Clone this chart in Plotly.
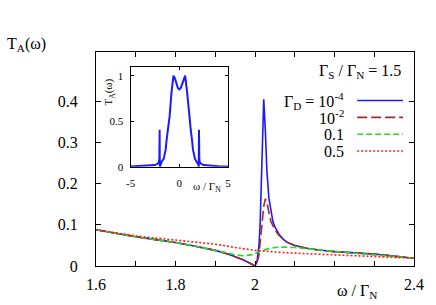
import plotly.graph_objects as go

# ---- main panel data (omega / Gamma_N, T_A) ----
w_blue = [1.6, 1.65, 1.7, 1.75, 1.8, 1.85, 1.9, 1.93, 1.95, 1.97, 1.985, 1.995, 2.0,
          2.005, 2.01, 2.013, 2.016, 2.019, 2.022, 2.026, 2.03, 2.035, 2.04, 2.045, 2.05,
          2.06, 2.07, 2.08, 2.1, 2.13, 2.16, 2.2, 2.25, 2.3, 2.35, 2.4]
t_blue = [0.088, 0.079, 0.071, 0.064, 0.057, 0.048, 0.038, 0.030, 0.023, 0.015, 0.008, 0.002, 0.0,
          0.01, 0.05, 0.105, 0.19, 0.30, 0.405, 0.33, 0.23, 0.165, 0.13, 0.108, 0.095,
          0.078, 0.066, 0.058, 0.050, 0.043, 0.039, 0.035, 0.032, 0.029, 0.024, 0.019]

w_red = [1.6, 1.65, 1.7, 1.75, 1.8, 1.85, 1.9, 1.93, 1.95, 1.97, 1.985, 1.995, 2.0,
         2.005, 2.01, 2.014, 2.018, 2.022, 2.026, 2.03, 2.035, 2.04, 2.05, 2.06,
         2.07, 2.08, 2.1, 2.13, 2.16, 2.2, 2.25, 2.3, 2.35, 2.4]
t_red = [0.088, 0.079, 0.071, 0.064, 0.057, 0.048, 0.038, 0.030, 0.023, 0.015, 0.008, 0.002, 0.0,
         0.008, 0.027, 0.067, 0.108, 0.145, 0.163, 0.155, 0.13, 0.108, 0.088, 0.075,
         0.066, 0.058, 0.050, 0.043, 0.039, 0.035, 0.032, 0.029, 0.024, 0.019]

w_green = [1.6, 1.65, 1.7, 1.75, 1.8, 1.85, 1.9, 1.93, 1.95, 1.97, 1.99, 2.0, 2.01, 2.03,
           2.05, 2.07, 2.1, 2.15, 2.2, 2.25, 2.3, 2.35, 2.4]
t_green = [0.088, 0.079, 0.071, 0.064, 0.057, 0.048, 0.039, 0.032, 0.027, 0.025, 0.027, 0.030,
           0.035, 0.041, 0.045, 0.046, 0.045, 0.040, 0.035, 0.031, 0.027, 0.023, 0.019]

w_dot = [1.6, 1.7, 1.8, 1.9, 1.95, 2.0, 2.05, 2.1, 2.15, 2.2, 2.25, 2.3, 2.35, 2.4]
t_dot = [0.088, 0.073, 0.063, 0.053, 0.045, 0.038, 0.034, 0.031, 0.029, 0.027, 0.025, 0.023, 0.021, 0.019]

# ---- inset data (Gamma_D = 1e-4, full range) ----
w_inset = [-5, -4, -3, -2.5, -2.2, -2.1, -2.05, -2.035, -2.022, -2.013, -2.0, -1.95, -1.9, -1.8,
           -1.6, -1.4, -1.3, -1.2, -1.0, -0.8, -0.6, -0.45, -0.3, -0.15, 0,
           0.15, 0.3, 0.45, 0.6, 0.8, 1.0, 1.2, 1.3, 1.4, 1.6, 1.8, 1.9, 1.95, 2.0,
           2.013, 2.022, 2.035, 2.05, 2.1, 2.2, 2.5, 3, 4, 5]
t_inset = [0.003, 0.006, 0.012, 0.018, 0.035, 0.05, 0.095, 0.165, 0.405, 0.105, 0.0, 0.023, 0.038, 0.057,
           0.088, 0.19, 0.3, 0.38, 0.55, 0.82, 1.0, 0.97, 0.91, 0.865, 0.85,
           0.865, 0.91, 0.97, 1.0, 0.82, 0.55, 0.38, 0.3, 0.19, 0.088, 0.057, 0.038, 0.023, 0.0,
           0.105, 0.405, 0.165, 0.095, 0.05, 0.035, 0.018, 0.012, 0.006, 0.003]

x_ticks = [1.6, 1.7, 1.8, 1.9, 2.0, 2.1, 2.2, 2.3, 2.4]
x_ticktext = ["1.6", "", "1.8", "", "2", "", "", "", "2.4"]
y_ticks = [0, 0.1, 0.2, 0.3, 0.4]
y_ticktext = ["0", "0.1", "0.2", "0.3", "0.4"]

legend_labels = ["Γ<sub>D</sub> = 10<sup>-4</sup>", "10<sup>-2</sup>", "0.1", "0.5"]
colors = ["#1a1aff", "#a52a2a", "#22dd22", "#ff1a1a"]
dashes = ["solid", "10px,4px", "6px,3px", "2px,2px"]

FONT = "Liberation Serif"

fig = go.Figure()
series = [(w_blue, t_blue), (w_red, t_red), (w_green, t_green), (w_dot, t_dot)]
for (w, t), c, d in zip(series, colors, dashes):
    fig.add_trace(go.Scatter(x=w, y=t, mode="lines", line=dict(color=c, width=1.6, dash=d),
                             showlegend=False, xaxis="x", yaxis="y"))

fig.add_trace(go.Scatter(x=w_inset, y=t_inset, mode="lines", line=dict(color="#1a1aff", width=2),
                         showlegend=False, xaxis="x2", yaxis="y2"))

axis_common = dict(showline=True, linecolor="black", linewidth=1.2, mirror="ticks",
                   ticks="inside", ticklen=5, tickcolor="black", tickwidth=1,
                   showgrid=False, zeroline=False)

fig.update_layout(
    width=436, height=305,
    margin=dict(l=96, r=21, t=52, b=37),
    paper_bgcolor="white", plot_bgcolor="white",
    font=dict(family=FONT, size=16, color="black"),
    xaxis=dict(range=[1.6, 2.4], tickvals=x_ticks, ticktext=x_ticktext,
               ticklabelstandoff=4, tickfont=dict(family=FONT, size=16), **axis_common),
    yaxis=dict(range=[0, 0.52], tickvals=y_ticks, ticktext=y_ticktext,
               ticklabelstandoff=14, tickfont=dict(family=FONT, size=16), **axis_common),
    xaxis2=dict(domain=[0.109, 0.415], anchor="y2", range=[-5, 5], tickvals=[-5, 0, 5],
                ticktext=["-5", "0", "5"], tickfont=dict(family=FONT, size=11), ticklabelstandoff=6,
                **{**axis_common, "ticklen": 3}),
    yaxis2=dict(domain=[0.464, 0.932], anchor="x2", range=[0, 1.1], tickvals=[0, 0.5, 1],
                ticktext=["0", "0.5", "1"], tickfont=dict(family=FONT, size=11), ticklabelstandoff=4,
                **{**axis_common, "ticklen": 3}),
)

W, H = 436, 305
L, R, T, B = 96, 21, 52, 37
pw, ph = W - L - R, H - T - B


def px2paper(x, y):
    return (x - L) / pw, (H - B - y) / ph


annotations = [
    dict(text="T<sub>A</sub>(ω)", x=5, y=44, xanchor="left"),
    dict(text="ω / Γ<sub>N</sub>", x=358, y=294),
    dict(text="Γ<sub>S</sub> / Γ<sub>N</sub> = 1.5", x=404, y=72, xanchor="right"),
    dict(text="T<sub>A</sub>(ω)", x=109, y=92, size=11, textangle=-90),
    dict(text="ω / Γ<sub>N</sub>", x=207, y=188, size=11),
]

ann_list = []
for a in annotations:
    xp, yp = px2paper(a["x"], a["y"])
    ann_list.append(dict(text=a["text"], x=xp, y=yp, xref="paper", yref="paper",
                         showarrow=False, xanchor=a.get("xanchor", "center"),
                         yanchor="middle", textangle=a.get("textangle", 0),
                         font=dict(family=FONT, size=a.get("size", 16), color="black")))

legend_y = [101, 118, 135, 152]
shapes = []
for lab, yy, c, d in zip(legend_labels, legend_y, colors, dashes):
    xp, yp = px2paper(347, yy)
    ann_list.append(dict(text=lab, x=xp, y=yp, xref="paper", yref="paper", showarrow=False,
                         xanchor="right", yanchor="middle",
                         font=dict(family=FONT, size=16, color="black")))
    x0, _ = px2paper(358, yy)
    x1, _ = px2paper(404, yy)
    shapes.append(dict(type="line", xref="paper", yref="paper", x0=x0, x1=x1, y0=yp, y1=yp,
                       line=dict(color=c, width=1.6, dash=d)))

fig.update_layout(annotations=ann_list, shapes=shapes)
fig.write_html("out.html", config={"displayModeBar": False},
               post_script="document.body.style.margin='0';document.body.style.overflow='hidden';")
